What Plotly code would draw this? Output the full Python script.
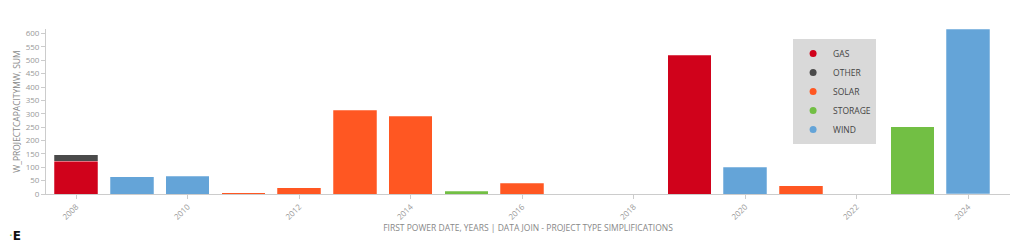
import plotly.graph_objects as go

years = [2008, 2009, 2010, 2011, 2012, 2013, 2014, 2015, 2016, 2019, 2020, 2021, 2023, 2024]
gas =     [122, None, None, None, None, None, None, None, None, 519, None, None, None, None]
other =   [25, None, None, None, None, None, None, None, None, None, None, None, None, None]
solar =   [None, None, None, 5, 24, 313, 291, None, 41, None, None, 31, None, 1]
storage = [None, None, None, None, None, None, None, 10, None, None, None, None, 252, None]
wind =    [None, 64, 67, None, None, None, None, None, None, None, 100, None, None, 616]

series = [("GAS", gas, "#d0021b"), ("OTHER", other, "#4a4a4a"),
          ("SOLAR", solar, "#ff5722"), ("STORAGE", storage, "#72bf44"),
          ("WIND", wind, "#64a4d8")]

fig = go.Figure()
for name, vals, col in series:
    fig.add_trace(go.Bar(x=years, y=vals, name=name, marker_color=col, showlegend=False,
                         legendgroup=name,
                         marker_line_color="rgba(255,255,255,0.5)", marker_line_width=0.5))
for name, vals, col in series:
    fig.add_trace(go.Scatter(x=[None], y=[None], mode="markers", name=name, legendgroup=name,
                             marker=dict(symbol="circle", size=7, color=col)))

fig.update_layout(
    barmode="stack", bargap=0.22,
    width=1024, height=251,
    margin=dict(l=46, r=14, t=29, b=57),
    paper_bgcolor="white", plot_bgcolor="white",
    font=dict(family="Open Sans", size=8, color="#999999"),
    legend=dict(x=0.775, y=0.94, xanchor="left", yanchor="top",
                bgcolor="#d9d9d9", font=dict(size=8.5, color="#444444"),
                traceorder="normal", entrywidth=70, tracegroupgap=0,
                itemwidth=30),
    showlegend=True,
)
fig.update_xaxes(range=[2007.46, 2024.75], tickmode="array",
                 tickvals=list(range(2008, 2025, 2)), tickangle=-45,
                 showline=True, linecolor="#cccccc", linewidth=1,
                 ticks="outside", ticklen=4, tickcolor="#cccccc",
                 showgrid=False, zeroline=False,
                 title=dict(text="FIRST POWER DATE, YEARS | DATA JOIN - PROJECT TYPE SIMPLIFICATIONS",
                            font=dict(size=8.5, color="#888888"), standoff=4))
fig.update_yaxes(range=[0, 617], tickmode="linear", tick0=0, dtick=50,
                 showline=True, linecolor="#cccccc", linewidth=1,
                 ticks="outside", ticklen=4, tickcolor="#cccccc",
                 showgrid=False, zeroline=False,
                 title=dict(text="W_PROJECTCAPACITYMW, SUM",
                            font=dict(size=8.5, color="#888888"), standoff=3))

fig.add_annotation(xref="paper", yref="paper", x=-0.04, y=-0.2, xanchor="left", yanchor="top",
                   text="<span style='color:#6cbf4b'>·</span><b>E</b>", showarrow=False,
                   font=dict(size=12, color="#111111", family="DejaVu Sans"))

fig.write_html("out.html")
